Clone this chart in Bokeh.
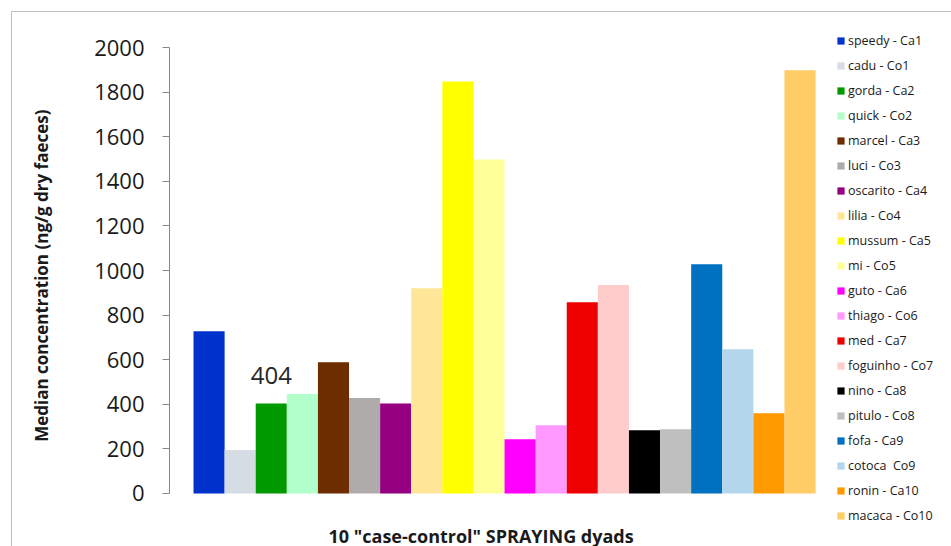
from bokeh.plotting import figure
from bokeh.models import (ColumnDataSource, Legend, LegendItem, FixedTicker, Label,
                          Range1d)
from bokeh.core.properties import value
from bokeh.embed import file_html
from bokeh.resources import INLINE

names = ["speedy - Ca1", "cadu - Co1", "gorda - Ca2", "quick - Co2", "marcel - Ca3",
         "luci - Co3", "oscarito - Ca4", "lilia - Co4", "mussum - Ca5", "mi - Co5",
         "guto - Ca6", "thiago - Co6", "med - Ca7", "foguinho - Co7", "nino - Ca8",
         "pitulo - Co8", "fofa - Ca9", "cotoca  Co9", "ronin - Ca10", "macaca - Co10"]
values = [728, 195, 404, 446, 588, 428, 404, 920, 1848, 1498,
          243, 306, 858, 935, 284, 288, 1028, 647, 360, 1898]
colors = ["#0033CC", "#D6DCE4", "#009900", "#B3FFCC", "#6E2D00",
          "#AFABAB", "#940080", "#FFE699", "#FFFF00", "#FFFF99",
          "#FF00FF", "#FF99FF", "#EE0000", "#FFCCCC", "#000000",
          "#BFBFBF", "#0070C0", "#B4D7EE", "#FF9900", "#FFCC66"]
y_ticks = [0, 200, 400, 600, 800, 1000, 1200, 1400, 1600, 1800, 2000]
annotated_index = 2
x_title = '10 "case-control" SPRAYING dyads'
y_title = "Median concentration  (ng/g dry faeces)"

FONT = "Open Sans"
xs = list(range(len(values)))
src = ColumnDataSource(dict(x=xs, top=values, color=colors, name=names))

border_css = ("linear-gradient(#BFBFBF,#BFBFBF) 11px 11px / 940px 1px no-repeat, "
              "linear-gradient(#BFBFBF,#BFBFBF) 11px 11px / 1px 535px no-repeat, white")

p = figure(width=951, height=546, output_backend="svg", toolbar_location=None,
           x_range=Range1d(-1.272, 23.87), y_range=Range1d(-237.7, 2210.8),
           x_axis_type=None,
           min_border_left=169, min_border_right=0, min_border_top=0,
           min_border_bottom=0)
p.styles = {"background": border_css}
p.outline_line_color = None
p.xgrid.grid_line_color = None
p.ygrid.grid_line_color = None
p.background_fill_color = None
p.border_fill_color = None

r = p.vbar(x="x", top="top", width=1.0, bottom=0, color="color", source=src,
           line_color=None)

# data label
p.text(x=[xs[annotated_index]], y=[values[annotated_index]],
       text=[str(values[annotated_index])], text_font=value(FONT),
       text_font_size="24px", text_align="center", text_baseline="alphabetic",
       y_offset=-28, text_color="#262626")

ax = p.yaxis[0]
ax.ticker = FixedTicker(ticks=y_ticks)
ax.bounds = (0, 2000)
ax.axis_line_color = "#868686"
ax.major_tick_line_color = "#868686"
ax.major_tick_out = 7
ax.major_tick_in = 0
ax.minor_tick_line_color = None
ax.major_label_text_font = FONT
ax.major_label_text_font_size = "22px"
ax.major_label_text_color = "#1a1a1a"
ax.major_label_standoff = 18
ax.axis_label = y_title
ax.axis_label_text_font = FONT
ax.axis_label_text_font_style = "bold"
ax.axis_label_text_font_size = "17px"
ax.axis_label_text_color = "#1a1a1a"
ax.axis_label_standoff = 38

p.add_layout(Label(x=159, y=11, x_units="screen", y_units="screen", text=x_title,
                   text_font=FONT, text_font_size="18px", text_font_style="bold",
                   text_baseline="alphabetic", text_align="left",
                   text_color="#1a1a1a"))

items = [LegendItem(label=names[i], renderers=[r], index=i) for i in range(len(names))]
legend = Legend(items=items, location=(667, 21), padding=0, margin=0,
                border_line_color=None, background_fill_alpha=0,
                glyph_width=9, glyph_height=9, label_standoff=3,
                label_height=20, spacing=5,
                label_text_font=FONT, label_text_font_size="12.5px",
                label_text_color="#1a1a1a")
p.add_layout(legend)

open("out.html", "w").write(file_html(p, INLINE))
